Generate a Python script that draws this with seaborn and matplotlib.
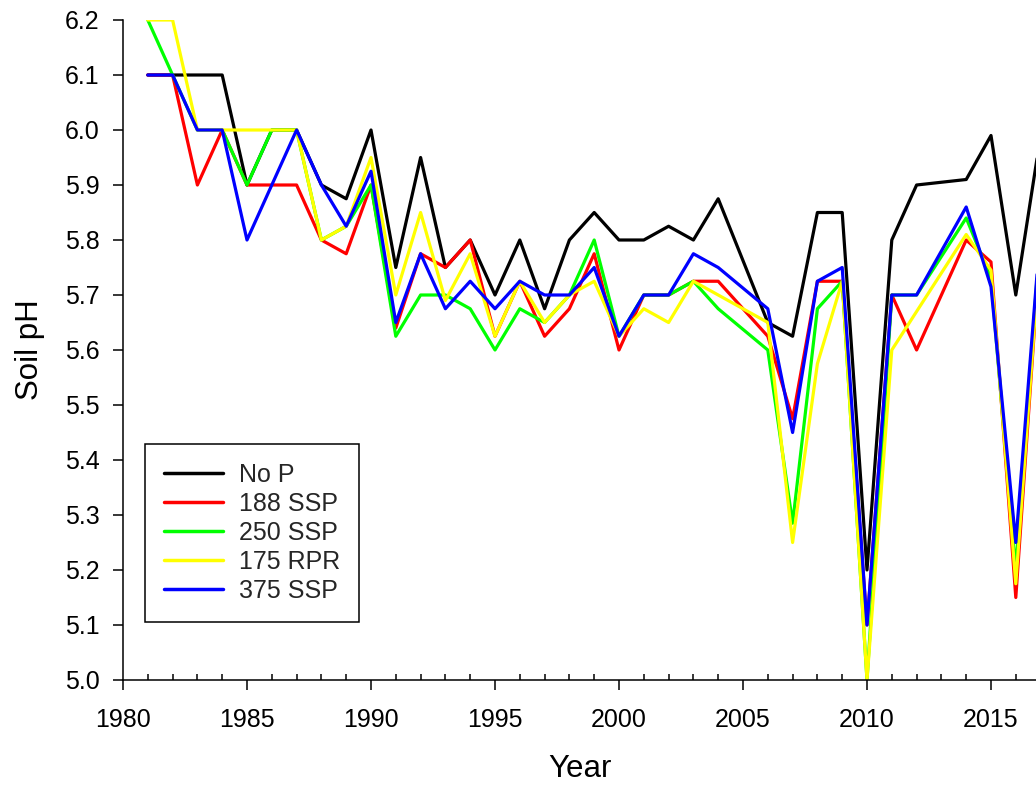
import numpy as np
import pandas as pd
import matplotlib
matplotlib.use("Agg")
import matplotlib.pyplot as plt
from matplotlib.ticker import MultipleLocator, FormatStrFormatter
import seaborn as sns

nan = np.nan

years = list(range(1981, 2018))

# Soil pH by treatment (no samples in 2005 and 2013)
no_p = [6.1, 6.1, 6.1, 6.1, 5.9, 6.0, 6.0, 5.9, 5.875, 6.0,
        5.75, 5.95, 5.75, 5.8, 5.7, 5.8, 5.675, 5.8, 5.85, 5.8,
        5.8, 5.825, 5.8, 5.875, nan, 5.65, 5.625, 5.85, 5.85, 5.2,
        5.8, 5.9, nan, 5.91, 5.99, 5.7, 5.99]
ssp_188 = [6.1, 6.1, 5.9, 6.0, 5.9, 5.9, 5.9, 5.8, 5.775, 5.9,
           5.64, 5.775, 5.75, 5.8, 5.625, 5.725, 5.625, 5.675, 5.775, 5.6,
           5.7, 5.7, 5.725, 5.725, nan, 5.625, 5.475, 5.725, 5.725, 5.1,
           5.7, 5.6, nan, 5.8, 5.76, 5.15, 5.8]
ssp_250 = [6.2, 6.1, 6.0, 6.0, 5.9, 6.0, 6.0, 5.8, 5.825, 5.9,
           5.625, 5.7, 5.7, 5.675, 5.6, 5.675, 5.65, 5.7, 5.8, 5.625,
           5.7, 5.7, 5.725, 5.675, nan, 5.6, 5.285, 5.675, 5.725, 5.0,
           5.7, 5.7, nan, 5.84, 5.73, 5.2, 5.82]
rpr_175 = [6.2, 6.2, 6.0, 6.0, 6.0, 6.0, 6.0, 5.8, 5.825, 5.95,
           5.7, 5.85, 5.69, 5.775, 5.625, 5.725, 5.65, 5.7, 5.725, 5.625,
           5.675, 5.65, 5.725, 5.7, nan, 5.65, 5.25, 5.575, 5.725, 5.0,
           5.6, 5.67, nan, 5.81, 5.745, 5.175, 5.8]
ssp_375 = [6.1, 6.1, 6.0, 6.0, 5.8, 5.9, 6.0, 5.9, 5.825, 5.925,
           5.65, 5.775, 5.675, 5.725, 5.675, 5.725, 5.7, 5.7, 5.75, 5.625,
           5.7, 5.7, 5.775, 5.75, nan, 5.675, 5.45, 5.725, 5.75, 5.1,
           5.7, 5.7, nan, 5.86, 5.715, 5.25, 5.82]

treatments = ["No P", "188 SSP", "250 SSP", "175 RPR", "375 SSP"]
colors = ["#000000", "#ff0000", "#00ff00", "#ffff00", "#0000ff"]

wide = pd.DataFrame({"Year": years, "No P": no_p, "188 SSP": ssp_188,
                     "250 SSP": ssp_250, "175 RPR": rpr_175, "375 SSP": ssp_375})
df = wide.melt(id_vars="Year", var_name="Treatment", value_name="pH").dropna()

sns.set_theme(style="ticks")
plt.rcParams["font.family"] = ["Liberation Sans", "DejaVu Sans"]

fig = plt.figure(figsize=(10.36, 7.87), dpi=100)
ax = fig.add_axes([123 / 1036, 107 / 787, 913 / 1036, 660 / 787])

sns.lineplot(data=df, x="Year", y="pH", hue="Treatment", hue_order=treatments,
             palette=dict(zip(treatments, colors)), estimator=None, sort=True,
             linewidth=2.3, ax=ax, legend=True)

ax.set_xlim(1980, 1980 + 913 / 24.8)
ax.set_ylim(5.0, 6.2)
ax.xaxis.set_major_locator(MultipleLocator(5))
ax.xaxis.set_minor_locator(MultipleLocator(1))
ax.yaxis.set_major_locator(MultipleLocator(0.1))
ax.yaxis.set_major_formatter(FormatStrFormatter("%.1f"))

for side in ("top", "right"):
    ax.spines[side].set_visible(False)
for side in ("left", "bottom"):
    ax.spines[side].set_color("black")
    ax.spines[side].set_linewidth(1.1)

ax.tick_params(axis="x", which="major", direction="out", length=7, width=1.1,
               color="black", labelsize=18, pad=13, labelcolor="black")
ax.tick_params(axis="x", which="minor", direction="in", length=4, width=1.1,
               color="black")
ax.tick_params(axis="y", which="major", direction="out", length=7, width=1.1,
               color="black", labelsize=18, pad=10, labelcolor="black")

ax.set_xlabel("Year", fontsize=22.5, color="black", labelpad=16)
ax.set_ylabel("Soil pH", fontsize=22.5, color="black", labelpad=14)
ax.grid(False)

leg = ax.legend(loc="lower left", bbox_to_anchor=(0.024, 0.088), borderaxespad=0,
                fontsize=18, frameon=True, fancybox=False, framealpha=1,
                edgecolor="black", handlelength=2.36, handletextpad=0.64,
                labelspacing=0.2, borderpad=0.75, title=None)
leg.get_frame().set_linewidth(1.1)
for line in leg.get_lines():
    line.set_linewidth(2.5)

fig.savefig("out.png", dpi=100)
